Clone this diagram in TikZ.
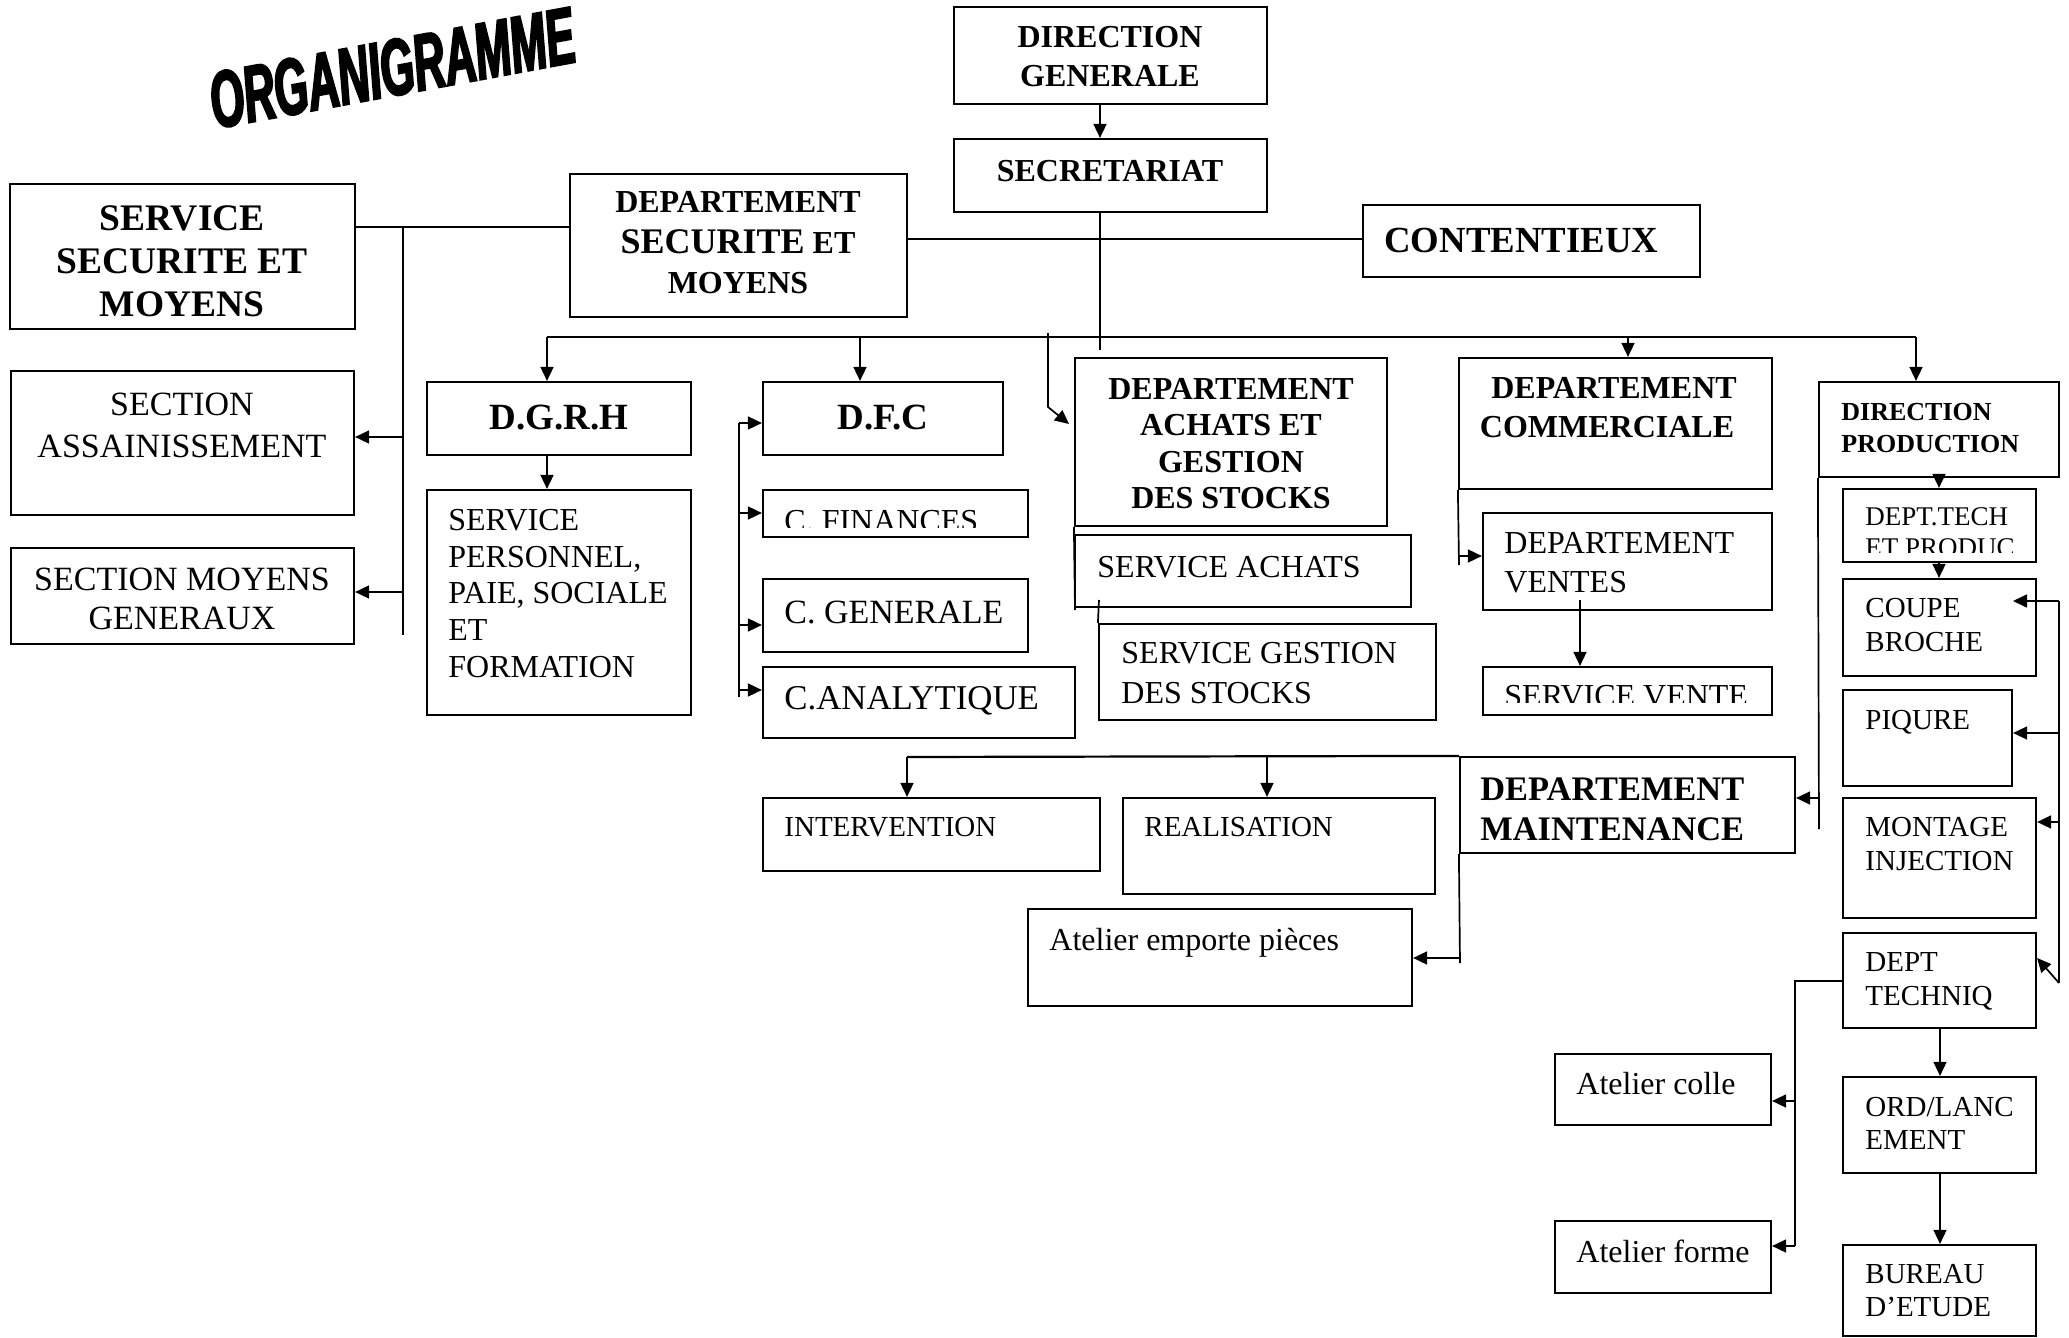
\documentclass[tikz,border=0pt]{standalone}
\usepackage{fontspec}
\setmainfont{Liberation Serif}
\newfontfamily\wordart{Liberation Sans}[FakeStretch=0.54,FakeBold=2.5]
\usetikzlibrary{arrows.meta,fit}
\newcommand\fs[1]{\fontsize{#1}{#1}\selectfont}
\begin{document}
\begin{tikzpicture}[x=0.5pt,y=-0.5pt,
  box/.style={draw,line width=1.1pt,inner sep=0pt},
  ln/.style={line width=0.85pt},
  arr/.style={ln,-{Triangle[length=7pt,width=6.5pt]}},
  tw/.style={inner sep=0pt,anchor=base west},
  tc/.style={inner sep=0pt,anchor=base},
  tb/.style={font=\bfseries\fs{#1}},
  tr/.style={font=\fs{#1}}]
\useasboundingbox (0,0) rectangle (2069,1338);

% ---------- title ----------
\node[rotate=10.5,inner sep=0pt,font=\wordart\bfseries\itshape\fs{40}] (title) at (392,68) {ORGANIGRAMME};

% ---------- boxes ----------
\node[box,fit={(954,7) (1267,104)}] (dg) {};
\node[box,fit={(954,139) (1267,212)}] (sec) {};
\node[box,fit={(570,174) (907,317)}] (dsm) {};
\node[box,fit={(1363,205) (1700,277)}] (cont) {};
\node[box,fit={(10,184) (355,329)}] (ssm) {};
\node[box,fit={(11,371) (354,515)}] (assa) {};
\node[box,fit={(11,548) (354,644)}] (smg) {};
\node[box,fit={(427,382) (691,455)}] (dgrh) {};
\node[box,fit={(427,490) (691,715)}] (spers) {};
\node[box,fit={(763,382) (1003,455)}] (dfc) {};
\node[box,fit={(763,490) (1028,537)}] (cfin) {};
\node[box,fit={(763,579) (1028,652)}] (cgen) {};
\node[box,fit={(763,667) (1075,738)}] (cana) {};
\node[box,fit={(1075,358) (1387,526)}] (dach) {};
\node[box,fit={(1075,535) (1411,607)}] (sach) {};
\node[box,fit={(1099,624) (1436,720)}] (sgest) {};
\node[box,fit={(1459,358) (1772,489)}] (dcom) {};
\node[box,fit={(1483,513) (1772,610)}] (dven) {};
\node[box,fit={(1483,667) (1772,715)}] (sven) {};
\node[box,fit={(1819,382) (2059,477)}] (dprod) {};
\node[box,fit={(1843,489) (2036,562)}] (dtp) {};
\node[box,fit={(1843,579) (2036,676)}] (coupe) {};
\node[box,fit={(1843,690) (2012,786)}] (piq) {};
\node[box,fit={(1843,798) (2036,918)}] (mont) {};
\node[box,fit={(1843,933) (2036,1028)}] (dtech) {};
\node[box,fit={(1843,1077) (2036,1173)}] (ord) {};
\node[box,fit={(1843,1245) (2036,1336)}] (bur) {};
\node[box,fit={(1460,757) (1795,853)}] (maint) {};
\node[box,fit={(763,798) (1100,871)}] (inter) {};
\node[box,fit={(1123,798) (1435,894)}] (real) {};
\node[box,fit={(1028,909) (1412,1006)}] (atemp) {};
\node[box,fit={(1555,1054) (1771,1125)}] (acol) {};
\node[box,fit={(1555,1221) (1771,1293)}] (afor) {};

% ---------- texts ----------
\node[tc,tb=16] (dgT1) at (1110,48) {DIRECTION};
\node[tc,tb=16] (dgT2) at (1110,87) {GENERALE};
\node[tc,tb=16] (secT) at (1110,182) {SECRETARIAT};
\node[tc,tb=16] (dsmT1) at (738,213) {DEPARTEMENT};
\node[tc,tb=16] (dsmT2) at (738,254) {{\fs{18}SECURITE} ET};
\node[tc,tb=16] (dsmT3) at (738,293) {MOYENS};
\node[tc,tb=18.75] (ssmT1) at (182,230) {SERVICE};
\node[tc,tb=18.75] (ssmT2) at (182,273) {SECURITE ET};
\node[tc,tb=18.75] (ssmT3) at (182,316) {MOYENS};
\node[tw,tb=18.4] (contT) at (1384,252) {CONTENTIEUX};
\node[tc,tb=18.5] (dgrhT) at (559,429) {D.G.R.H};
\node[tc,tb=18.5] (dfcT) at (883,429) {D.F.C};
\node[tc,tr=17] (assaT1) at (182,415) {SECTION};
\node[tc,tr=17] (assaT2) at (182,457) {ASSAINISSEMENT};
\node[tc,tr=17] (smgT1) at (182,590) {SECTION MOYENS};
\node[tc,tr=17] (smgT2) at (182,629) {GENERAUX};
\node[tw,tr=16] (spT1) at (448,530) {SERVICE};
\node[tw,tr=16] (spT2) at (448,567) {PERSONNEL,};
\node[tw,tr=16] (spT3) at (448,603) {PAIE, SOCIALE};
\node[tw,tr=16] (spT4) at (448,640) {ET};
\node[tw,tr=16] (spT5) at (448,677) {FORMATION};
\begin{scope}
\clip (763,490) rectangle (1028,527);
\node[tw,tr=16] (cfinT) at (784,531) {C. FINANCES};
\end{scope}
\node[tw,tr=17] (cgenT) at (784,623) {C. GENERALE};
\node[tw,tr=17.4] (canaT) at (784,709) {C.ANALYTIQUE};
\node[tc,tb=16] (dachT1) at (1231,399) {DEPARTEMENT};
\node[tc,tb=16] (dachT2) at (1231,435) {ACHATS ET};
\node[tc,tb=16] (dachT3) at (1231,472) {GESTION};
\node[tc,tb=16] (dachT4) at (1231,508) {DES STOCKS};
\node[tw,tr=16] (sachT) at (1097,577) {SERVICE ACHATS};
\node[tw,tr=16] (sgT1) at (1121,663) {SERVICE GESTION};
\node[tw,tr=16] (sgT2) at (1121,703) {DES STOCKS};
\node[tc,tb=16] (dcomT1) at (1614,398) {DEPARTEMENT};
\node[tc,tb=16] (dcomT2) at (1607,437) {COMMERCIALE};
\node[tw,tr=16] (dvenT1) at (1504,553) {DEPARTEMENT};
\node[tw,tr=16] (dvenT2) at (1504,592) {VENTES};
\begin{scope}
\clip (1483,667) rectangle (1772,702);
\node[tw,tr=16] (svenT) at (1504,706) {SERVICE VENTE};
\end{scope}
\node[tw,tb=13] (dprodT1) at (1841,420) {DIRECTION};
\node[tw,tb=13] (dprodT2) at (1841,452) {PRODUCTION};
\begin{scope}
\clip (1843,489) rectangle (2036,552);
\node[tw,tr=13.5] (dtpT1) at (1865,525) {DEPT.TECH};
\node[tw,tr=13.5] (dtpT2) at (1865,556) {ET PRODUC};
\end{scope}
\node[tw,tr=14.5] (coupeT1) at (1865,617) {COUPE};
\node[tw,tr=14.5] (coupeT2) at (1865,651) {BROCHE};
\node[tw,tr=14.5] (piqT) at (1865,729) {PIQURE};
\node[tw,tr=14.5] (montT1) at (1865,836) {MONTAGE};
\node[tw,tr=14.5] (montT2) at (1865,870) {INJECTION};
\node[tw,tr=14.5] (dtechT1) at (1865,971) {DEPT};
\node[tw,tr=14.5] (dtechT2) at (1865,1005) {TECHNIQ};
\node[tw,tr=14.5] (ordT1) at (1865,1116) {ORD/LANC};
\node[tw,tr=14.5] (ordT2) at (1865,1149) {EMENT};
\node[tw,tr=14.5] (burT1) at (1865,1283) {BUREAU};
\node[tw,tr=14.5] (burT2) at (1865,1316) {D’ETUDE};
\node[tw,tr=16] (acolT) at (1576,1094) {Atelier colle};
\node[tw,tr=16] (aforT) at (1576,1262) {Atelier forme};
\node[tw,tr=14.5] (interT) at (784,836) {INTERVENTION};
\node[tw,tr=14.5] (realT) at (1144,836) {REALISATION};
\node[tw,tb=17.2] (maintT1) at (1480,800) {DEPARTEMENT};
\node[tw,tb=17.2] (maintT2) at (1480,840) {MAINTENANCE};
\node[tw,tr=16] (atempT) at (1049,950) {Atelier emporte pièces};

% ---------- connectors ----------
\coordinate (xs) at (1100,0);
\coordinate (secend) at (1100,350);
\draw[arr] (dg.south -| xs) -- (sec.north -| xs);
\draw[ln] (sec.south -| xs) -- (secend);

\coordinate (j1) at (403,227);
\coordinate (j1b) at (403,635);
\draw[ln] (ssm.east |- j1) -- (dsm.west |- j1);
\draw[ln] (j1) -- (j1b);
\coordinate (ya) at (403,437);
\coordinate (ym) at (403,592);
\draw[arr] (ya) -- (assa.east |- ya);
\draw[arr] (ym) -- (smg.east |- ym);

\coordinate (yc) at (0,239);
\draw[ln] (dsm.east |- yc) -- (cont.west |- yc);

% main bus
\coordinate (busL) at (547,337);
\coordinate (busR) at (1916,337);
\coordinate (bdfc) at (860,337);
\coordinate (bcom) at (1628,337);
\draw[ln] (busL) -- (busR);
\draw[arr] (busL) -- (dgrh.north -| busL);
\draw[arr] (bdfc) -- (dfc.north -| bdfc);
\draw[arr] (bcom) -- (dcom.north -| bcom);
\draw[arr] (busR) -- (dprod.north -| busR);
\coordinate (a1) at (1048,333);
\coordinate (a2) at (1048,407);
\coordinate (a3) at (1069,424);
\draw[arr] (a1) -- (a2) -- (a3);

% DGRH
\draw[arr] (dgrh.south -| busL) -- (spers.north -| busL);

% DFC bracket
\coordinate (f1) at (739,423);
\coordinate (f2) at (739,697);
\coordinate (f3) at (739,513);
\coordinate (f4) at (739,625);
\coordinate (f5) at (739,690);
\draw[ln] (f1) -- (f2);
\draw[arr] (f1) -- (dfc.west |- f1);
\draw[arr] (f3) -- (cfin.west |- f3);
\draw[arr] (f4) -- (cgen.west |- f4);
\draw[arr] (f5) -- (cana.west |- f5);

% achats
\coordinate (ach1) at (1075,610);
\coordinate (ach2) at (1099,600);
\draw[ln] (dach.south west) -- (ach1);
\draw[ln] (ach2) -- (sgest.north west);

% commerciale
\coordinate (c1) at (1459,565);
\coordinate (c2) at (1459,556);
\coordinate (v1) at (1580,600);
\draw[ln] (dcom.south west) -- (c1);
\draw[arr] (c2) -- (dven.west |- c2);
\draw[arr] (v1) -- (sven.north -| v1);

% production
\coordinate (xp) at (1939,0);
\draw[arr] (dprod.south -| xp) -- (dtp.north -| xp);
\draw[arr] (dtp.south -| xp) -- (coupe.north -| xp);
\coordinate (p1) at (1819,829);
\coordinate (p2) at (1819,798);
\draw[ln] (dprod.south west) -- (p1);
\draw[arr] (p2) -- (maint.east |- p2);
\coordinate (r1) at (2059,601);
\coordinate (r2) at (2059,983);
\coordinate (rt) at (2013,601);
\coordinate (r3) at (2059,733);
\coordinate (r4) at (2059,822);
\coordinate (r5) at (2036,958);
\draw[ln] (r1) -- (r2);
\draw[arr] (r1) -- (rt);
\draw[arr] (r3) -- (piq.east |- r3);
\draw[arr] (r4) -- (mont.east |- r4);
\draw[arr] (r2) -- (dtech.east |- r5);
\coordinate (t1) at (1795,981);
\coordinate (t2) at (1795,1246);
\coordinate (t3) at (1795,1101);
\draw[ln] (dtech.west |- t1) -- (t1) -- (t2);
\draw[arr] (t3) -- (acol.east |- t3);
\draw[arr] (t2) -- (afor.east |- t2);
\coordinate (xo) at (1940,0);
\draw[arr] (dtech.south -| xo) -- (ord.north -| xo);
\draw[arr] (ord.south -| xo) -- (bur.north -| xo);

% maintenance
\coordinate (m1) at (907,757);
\coordinate (m2) at (1267,757);
\coordinate (m3) at (1460,963);
\coordinate (m4) at (1460,958);
\draw[line width=1.1pt] (m1) -- (maint.north west);
\draw[arr] (m1) -- (inter.north -| m1);
\draw[arr] (m2) -- (real.north -| m2);
\draw[ln] (maint.south west) -- (m3);
\draw[arr] (m4) -- (atemp.east |- m4);
\end{tikzpicture}
\end{document}
